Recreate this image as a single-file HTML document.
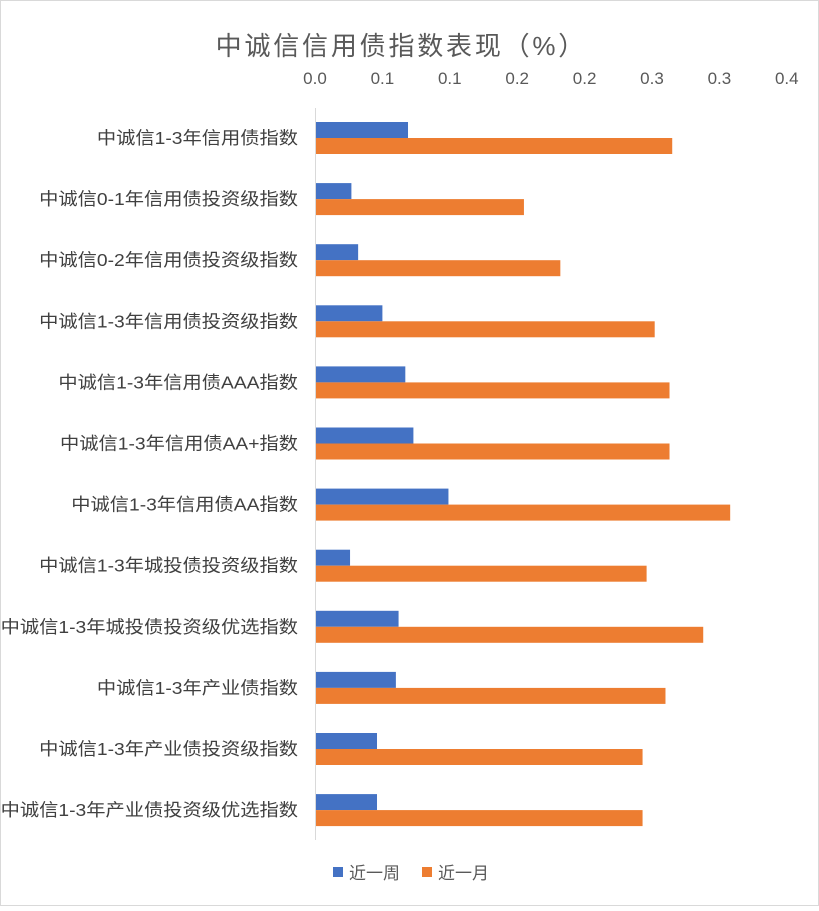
<!DOCTYPE html>
<html><head><meta charset="utf-8"><style>
body{margin:0;background:#fff;}
svg text{font-family:"Liberation Sans","Noto Sans CJK SC",sans-serif;}
</style></head><body>
<svg id="chart" width="819" height="906" xmlns="http://www.w3.org/2000/svg">
<rect x="0.5" y="0.5" width="818" height="905" fill="#fff" stroke="#d9d9d9"/>
<text id="title" x="400" y="55" font-size="26" fill="#595959" text-anchor="middle">中诚信信用债指数表现（%）</text>
<g id="ticks"></g><g id="cats"></g><g id="bars"></g>
<line x1="315.5" y1="108" x2="315.5" y2="840" stroke="#d9d9d9"/>
<g>
<g><rect x="333" y="867" width="10" height="10" fill="#4472c4"/><text x="349" y="879" font-size="17" fill="#595959">近一周</text></g>
<g><rect x="422" y="867" width="10" height="10" fill="#ed7d31"/><text x="438" y="879" font-size="17" fill="#595959">近一月</text></g>
</g>
</svg>
<script>
const categories=["中诚信1-3年信用债指数","中诚信0-1年信用债投资级指数","中诚信0-2年信用债投资级指数","中诚信1-3年信用债投资级指数","中诚信1-3年信用债AAA指数","中诚信1-3年信用债AA+指数","中诚信1-3年信用债AA指数","中诚信1-3年城投债投资级指数","中诚信1-3年城投债投资级优选指数","中诚信1-3年产业债指数","中诚信1-3年产业债投资级指数","中诚信1-3年产业债投资级优选指数"];
const weekValues=[0.069,0.027,0.032,0.050,0.067,0.073,0.099,0.026,0.062,0.060,0.046,0.046];
const monthValues=[0.265,0.155,0.182,0.252,0.263,0.263,0.308,0.246,0.288,0.260,0.243,0.243];
const tickValues=[0,0.05,0.1,0.15,0.2,0.25,0.3,0.35];
const tickLabels=["0.0","0.1","0.1","0.2","0.2","0.3","0.3","0.4"];
const NS="http://www.w3.org/2000/svg";
const x=v=>315+v*1348;
const rowY=i=>122+i*61.1;
function mk(tag,attrs,parent,txt){const e=document.createElementNS(NS,tag);for(const k in attrs)e.setAttribute(k,attrs[k]);if(txt!==undefined)e.textContent=txt;document.getElementById(parent).appendChild(e);return e;}
const ti=document.getElementById('title');
ti.setAttribute('textLength',ti.getComputedTextLength()*1.1);
tickValues.forEach((v,i)=>{const t=mk('text',{x:x(v),y:84,'font-size':17,fill:'#595959','text-anchor':'middle'},'ticks',tickLabels[i]);

});
categories.forEach((c,i)=>{const y=rowY(i);
const t=mk('text',{x:298,y:y+22,'font-size':17.5,fill:'#404040','text-anchor':'end'},'cats',c);


t.setAttribute('textLength',t.getComputedTextLength()*1.1);
t.setAttribute('lengthAdjust','spacingAndGlyphs');
const b=mk('rect',{x:316,y:y,width:x(weekValues[i])-316,height:16,fill:'#4472c4'},'bars');


const o=mk('rect',{x:316,y:y+16,width:x(monthValues[i])-316,height:16,fill:'#ed7d31'},'bars');

});
</script>
</body></html>
